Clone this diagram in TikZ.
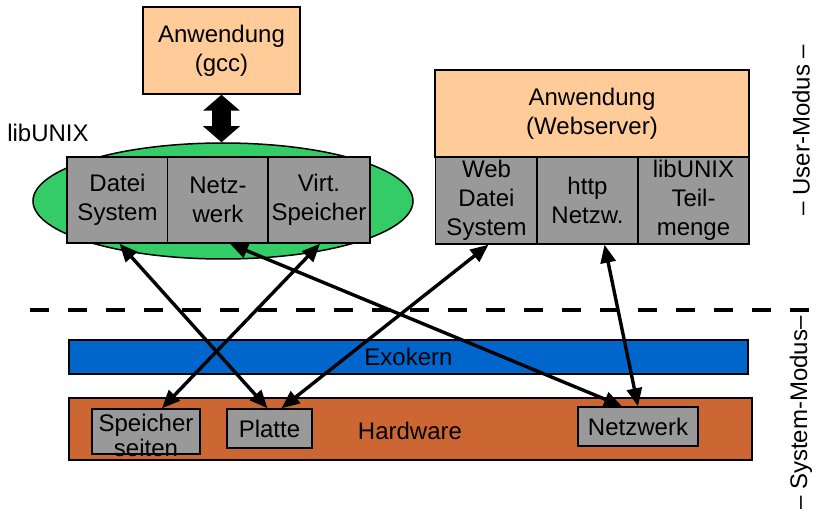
\documentclass[tikz,border=0pt]{standalone}
\usepackage{fontspec}
\setmainfont{Liberation Sans}
\usetikzlibrary{arrows.meta,shapes.geometric,calc}
\definecolor{peach}{HTML}{FFCC99}
\definecolor{libgreen}{HTML}{33CC66}
\definecolor{boxgrey}{HTML}{999999}
\definecolor{exoblue}{HTML}{0066CC}
\definecolor{hwbrown}{HTML}{CC6633}
\tikzset{
  base/.style={draw=black, line width=1.5pt, inner sep=0pt, align=center,
    font=\fontsize{24}{29}\selectfont},
  appbox/.style={base, fill=peach},
  greybox/.style={base, fill=boxgrey},
  hwbox/.style={base, fill=boxgrey, font=\fontsize{24}{25}\selectfont},
  conn/.style={line width=3.4pt, {Triangle[length=18pt,width=15pt]}-{Triangle[length=18pt,width=15pt]}},
  bigarrow/.style={line width=19pt, {Triangle[length=16pt,width=36pt]}-{Triangle[length=16pt,width=36pt]}},
  plain/.style={font=\fontsize{24}{29}\selectfont, inner sep=0pt, align=center}
}
\begin{document}
\begin{tikzpicture}[x=1pt,y=-1pt]
\useasboundingbox (0,0) rectangle (817,513);
% dashed separator
\coordinate (dl) at (30,310);
\coordinate (dr) at (817,310);
\draw[line width=4pt, dash pattern=on 19pt off 19pt] (dl) -- (dr);
% left application
\node[appbox, minimum width=157pt, minimum height=87pt] (gcc) at (221.5,50.5) {Anwendung\\(gcc)};
\node[base, ellipse, fill=libgreen, minimum width=380pt, minimum height=116pt] (ell) at (223,201) {};
\node[plain] (libunix) at (48,133) {libUNIX};
\node[greybox, minimum width=101pt, minimum height=86pt] (datei) at (117.5,200) {Datei\\System};
\node[greybox, minimum width=101pt, minimum height=86pt] (netz) at (218,200) {Netz-\\werk};
\node[greybox, minimum width=102pt, minimum height=86pt] (virt) at (319,200) {Virt.\\Speicher};
\draw[bigarrow] (gcc.south) -- (gcc.south |- ell.north);
% right application
\node[appbox, minimum width=314pt, minimum height=87pt] (web) at (592,113.5) {Anwendung\\(Webserver)};
\node[greybox, minimum width=102pt, minimum height=87pt] (webdatei) at (486.5,200.5) {Web\\Datei\\System};
\node[greybox, minimum width=101pt, minimum height=87pt] (http) at (587.5,200.5) {http\\Netzw.};
\node[greybox, minimum width=111pt, minimum height=87pt] (teil) at (693.5,200.5) {libUNIX\\Teil-\\menge};
% system mode
\node[base, fill=exoblue, minimum width=679pt, minimum height=34pt] (exo) at (408.5,357) {Exokern};
\node[base, fill=hwbrown, minimum width=683pt, minimum height=62pt] (hw) at (410.5,429) {};
\node[plain] (hwlabel) at (410,431) {Hardware};
\node[hwbox, minimum width=108pt, minimum height=45pt] (speicher) at (146,431.5) {};
\node[hwbox, fill=none, draw=none] (speichertext) at (146,435) {Speicher\\seiten};
\node[hwbox, minimum width=85pt, minimum height=39pt] (platte) at (269.5,428.5) {Platte};
\node[hwbox, minimum width=120pt, minimum height=39pt] (netzwerk) at (638,426.5) {Netzwerk};
% side labels
\node[plain, rotate=90] (user) at (801,130) {– User-Modus –};
\node[plain, rotate=90] (sys) at (801,413) {– System-Modus–};
% connectors
\draw[conn] ([xshift=2pt]datei.south) -- ([xshift=-2pt]platte.north);
\draw[conn] ([xshift=1pt]virt.south) -- ([xshift=16pt]speicher.north);
\draw[conn] ([xshift=12pt]netz.south) -- ([xshift=-16pt]netzwerk.north);
\draw[conn] ([xshift=2pt]webdatei.south) -- ([xshift=12pt]platte.north);
\draw[conn] ([xshift=17pt]http.south) -- (netzwerk.north);
\end{tikzpicture}
\end{document}
